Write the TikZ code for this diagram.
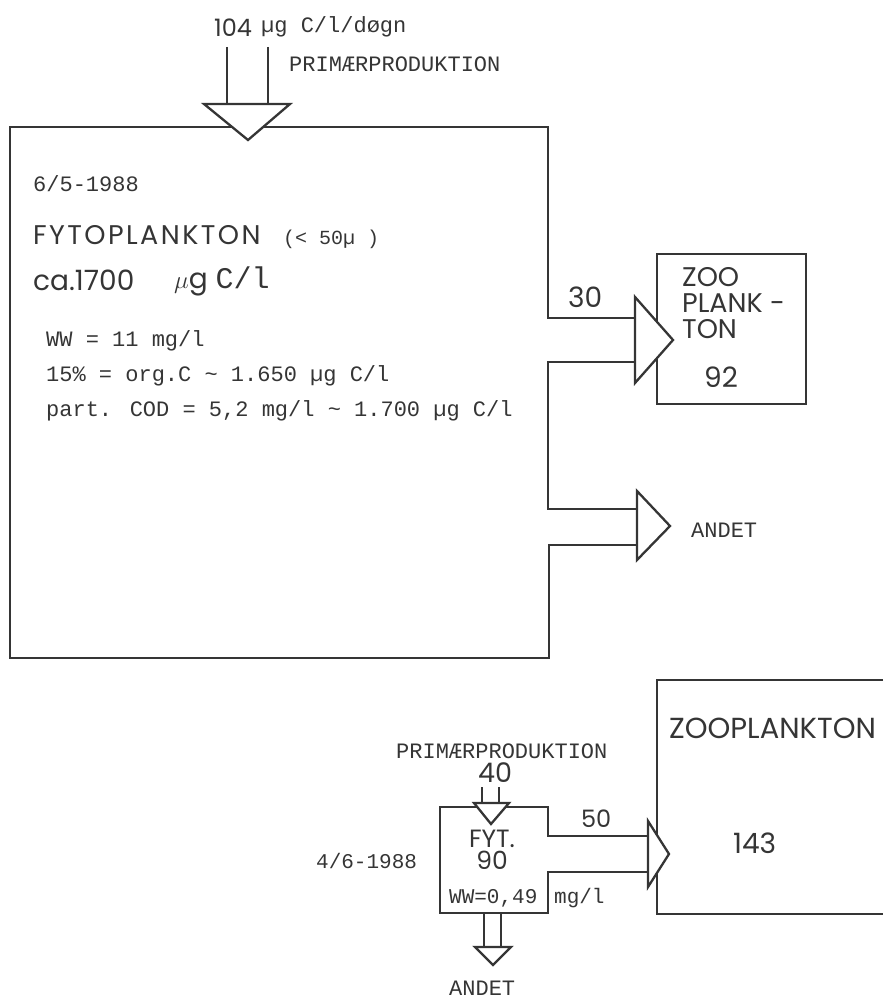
\documentclass[tikz,border=0pt]{standalone}
\usepackage{fontspec}
\newfontfamily\geofont{Poppins}
\newfontfamily\geowide[LetterSpace=9]{Poppins}
\newfontfamily\twfont{Liberation Mono}
\usetikzlibrary{positioning,calc}
\definecolor{ink}{HTML}{353535}

\begin{document}
\begin{tikzpicture}[x=1pt, y=-1pt, line width=2.3pt, color=ink,
		tw/.style={font=\twfont\fontsize{#1}{#1}\selectfont, inner sep=0pt, anchor=base west},
		tw/.default=22,
		geo/.style={font=\geofont\fontsize{#1}{#1}\selectfont, inner sep=0pt, anchor=base west},
		geo/.default=27,
		head/.style={fill=white, line join=miter}]
		\useasboundingbox (0,0) rectangle (883,1003);

		\coordinate (fytNW) at (10,127);
		\coordinate (fytNE) at (548,127);
		\coordinate (fytSW) at (10,658);
		\coordinate (fytSE) at (549,658);
		\coordinate (zooNW) at (657,254);
		\coordinate (zooSE) at (806,404);
		\coordinate (inTip) at (248,140);
		\coordinate (zooTip) at (673,340);
		\coordinate (andTip) at (670,526);

		\draw (zooNW) rectangle (zooSE);
		\draw (636,362) -- (548,362) -- (548,509) -- (637,509)
			(637,545) -- (549,545) -- (fytSE) -- (fytSW) -- (fytNW) -- (fytNE) -- (548,318) -- (636,318);
		\draw (227,47) -- (227,104) (268,47) -- (268,104);
		\draw[head] (204,104) -- (290,104) -- (inTip) -- cycle;
		\draw[head] (635,297) -- (zooTip) -- (635,383) -- cycle;
		\draw[head] (637,491) -- (andTip) -- (637,560) -- cycle;

		\node[geo=24] (inflow) at (213,37) {104};
		\node[tw] (inUnit) at (260,33) {µg C/l/døgn};
		\node[tw] (inLabel) at (288,72) {PRIMÆRPRODUKTION};
		\node[tw] (date) at (32,192) {6/5-1988};
		\node[anchor=base west, inner sep=0pt, font=\geowide\fontsize{27}{27}\selectfont] (fyto) at (32,244) {FYTOPLANKTON};
		\node[tw=20] (fytoSize) at (282,244) {(< 50µ )};
		\node[geo=28] (fytoAmount) at (32,290) {ca.1700};
		\node[anchor=base west, inner sep=0pt] (fytoUnit) at (173,288) {\fontsize{28}{28}\selectfont$\mu${\geofont g}\hspace{8pt}{\twfont\fontsize{30}{30}\selectfont C/l}};
		\node[tw] (ww) at (45,346) {WW = 11 mg/l};
		\node[tw] (orgC) at (45,381) {15\% = org.C \~{} 1.650 µg C/l};
		\node[tw] (cod) at (45,416) {part. COD = 5,2 mg/l \~{} 1.700 µg C/l};
		\node[geo=28] (toZoo) at (567,307) {30};
		\node[geo, align=left, font=\geofont\fontsize{27}{26}\selectfont] (zooName) at (681,338) {ZOO\\PLANK -\\TON};
		\node[geo=28] (zooAmount) at (703,387) {92};
		\node[tw] (other) at (690,537) {ANDET};

		\coordinate (fyt2NW) at (440,807);
		\coordinate (fyt2SW) at (440,913);
		\coordinate (zoo2NW) at (657,680);
		\coordinate (zoo2SW) at (657,914);
		\coordinate (in2Tip) at (491,824);
		\coordinate (zoo2Tip) at (669,854);
		\coordinate (out2Tip) at (493,965);

		\draw (883,680) -- (zoo2NW) -- (zoo2SW) -- (883,914);
		\draw (648,872) -- (548,872) -- (548,913) -- (fyt2SW) -- (fyt2NW) -- (548,807) -- (548,836) -- (648,836);
		\draw (482,787) -- (482,803) (499,787) -- (499,803);
		\draw[head] (474,803) -- (509,803) -- (in2Tip) -- cycle;
		\draw[head] (648,821) -- (zoo2Tip) -- (648,887) -- cycle;
		\draw (484,913) -- (484,947) (501,913) -- (501,947);
		\draw[head] (475,947) -- (511,947) -- (out2Tip) -- cycle;

		\node[tw] (in2Label) at (395,758) {PRIMÆRPRODUKTION};
		\node[geo] (in2) at (477,782) {40};
		\node[geo=24] (toZoo2) at (580,827) {50};
		\node[anchor=base, inner sep=0pt, align=center, font=\geofont\fontsize{25}{22}\selectfont] (fyt2) at (492,869) {FYT.\\90};
		\node[tw=21] (date2) at (315,868) {4/6-1988};
		\node[tw=21] (ww2) at (448,903) {WW=0,49};
		\node[tw=21] (ww2Unit) at (553,903) {mg/l};
		\node[geo=29] (zoo2) at (668,738) {ZOOPLANKTON};
		\node[geo=28] (zoo2Amount) at (732,853) {143};
		\node[tw] (other2) at (448,995) {ANDET};
	\end{tikzpicture}
\end{document}
